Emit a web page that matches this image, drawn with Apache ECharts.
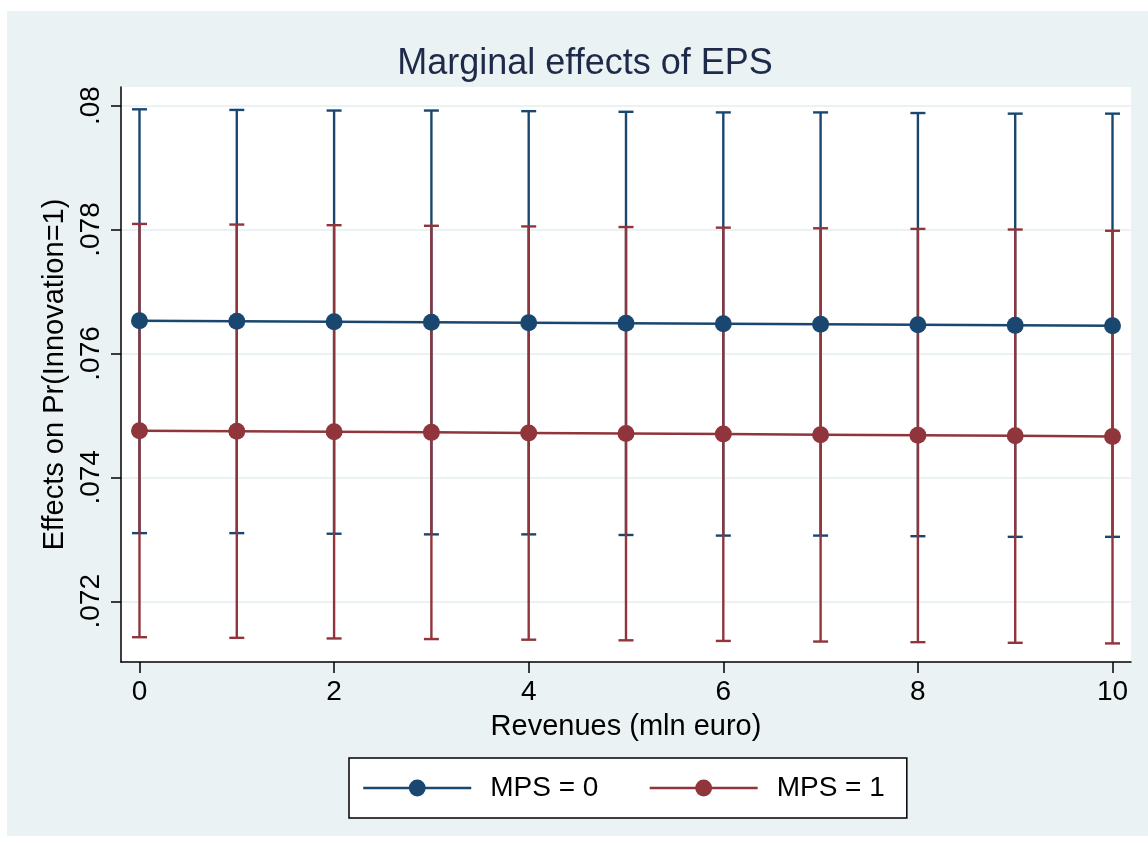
<!DOCTYPE html>
<html>
<head>
<meta charset="utf-8">
<script src="https://cdn.jsdelivr.net/npm/echarts@6/dist/echarts.min.js"></script>
<style>
  html, body { margin: 0; padding: 0; background: #ffffff; }
  #chart { width: 1148px; height: 843px; }
</style>
</head>
<body>
<div id="chart"></div>
<script>
// Revenues (mln euro) at which the margins are evaluated
const revenues = [0, 1, 2, 3, 4, 5, 6, 7, 8, 9, 10];

// MPS = 0: marginal effect with 95% confidence bounds
const mps0Margin = [0.076526, 0.076518, 0.076510, 0.076502, 0.076494, 0.076486, 0.076478, 0.076470, 0.076462, 0.076453, 0.076445];
const mps0Upper  = [0.07994, 0.07993, 0.07992, 0.07992, 0.07991, 0.07990, 0.07989, 0.07989, 0.07988, 0.07987, 0.07987];
const mps0Lower  = [0.07310, 0.07310, 0.07309, 0.07308, 0.07308, 0.07307, 0.07306, 0.07306, 0.07305, 0.07304, 0.07304];

// MPS = 1: marginal effect with 95% confidence bounds
const mps1Margin = [0.074753, 0.074744, 0.074735, 0.074726, 0.074716, 0.074707, 0.074698, 0.074689, 0.074679, 0.074670, 0.074661];
const mps1Upper  = [0.07809, 0.07808, 0.07807, 0.07806, 0.07805, 0.07804, 0.07803, 0.07802, 0.07801, 0.07800, 0.07798];
const mps1Lower  = [0.07142, 0.07141, 0.07140, 0.07139, 0.07138, 0.07137, 0.07136, 0.07135, 0.07134, 0.07133, 0.07132];

// Tick labels
const xTicks = [0, 2, 4, 6, 8, 10];
const yTicks = [0.072, 0.074, 0.076, 0.078, 0.08];

const NAVY = '#1A476F';
const MAROON = '#90353B';
const FONT = 'Liberation Sans, Arial, Helvetica, sans-serif';

function pairs(ys) { return revenues.map((x, i) => [x, ys[i]]); }
function bands(lo, hi) { return revenues.map((x, i) => [x, lo[i], hi[i]]); }

// Capped spike (rcap) drawn through the axes' own coordinate system
function capRenderer(color) {
  return function (params, api) {
    const x = api.value(0);
    const lo = api.coord([x, api.value(1)]);
    const hi = api.coord([x, api.value(2)]);
    const half = 7.5;
    const style = { stroke: color, lineWidth: 2.4 };
    return {
      type: 'group',
      children: [
        { type: 'line', shape: { x1: lo[0], y1: lo[1], x2: hi[0], y2: hi[1] }, style },
        { type: 'line', shape: { x1: lo[0] - half, y1: lo[1], x2: lo[0] + half, y2: lo[1] }, style },
        { type: 'line', shape: { x1: hi[0] - half, y1: hi[1], x2: hi[0] + half, y2: hi[1] }, style }
      ]
    };
  };
}

const chart = echarts.init(document.getElementById('chart'), null, { renderer: 'canvas' });

chart.setOption({
  animation: false,
  backgroundColor: '#ffffff',
  graphic: [{
    type: 'rect',
    z: -10,
    shape: { x: 7, y: 11, width: 1141, height: 825 },
    style: { fill: '#EAF2F3' }
  }],
  title: {
    text: 'Marginal effects of EPS',
    left: 580,
    textAlign: 'center',
    top: 41,
    textStyle: { fontFamily: FONT, fontSize: 36, fontWeight: 'normal', color: '#1E2A4A' }
  },
  grid: {
    left: 121, top: 87, right: 17, bottom: 181,
    show: true, backgroundColor: '#ffffff', borderWidth: 0
  },
  xAxis: {
    type: 'value',
    min: -0.19,
    max: 10.19,
    name: 'Revenues (mln euro)',
    nameLocation: 'middle',
    nameGap: 50,
    nameTextStyle: { fontFamily: FONT, fontSize: 29, color: '#000' },
    axisLine: { show: true, onZero: false, lineStyle: { color: '#000', width: 1.5 } },
    axisTick: { show: true, length: 11, customValues: xTicks, lineStyle: { color: '#000', width: 1.5 } },
    axisLabel: { customValues: xTicks, margin: 16, fontFamily: FONT, fontSize: 28, color: '#000' },
    splitLine: { show: false }
  },
  yAxis: {
    type: 'value',
    min: 0.07102,
    max: 0.0803,
    name: 'Effects on Pr(Innovation=1)',
    nameLocation: 'middle',
    nameGap: 51,
    nameRotate: 90,
    nameTextStyle: { fontFamily: FONT, fontSize: 29, color: '#000' },
    axisLine: { show: true, onZero: false, lineStyle: { color: '#000', width: 1.5 } },
    axisTick: { show: true, length: 10, customValues: yTicks, lineStyle: { color: '#000', width: 1.5 } },
    axisLabel: {
      customValues: yTicks, rotate: 90, margin: 16,
      fontFamily: FONT, fontSize: 28, color: '#000',
      formatter: v => String(+v.toFixed(3)).replace(/^0/, '')
    },
    splitLine: { show: true, lineStyle: { color: '#EAF2F3', width: 2 } }
  },
  legend: {
    data: ['MPS = 0', 'MPS = 1'],
    left: 349,
    top: 758,
    orient: 'horizontal',
    backgroundColor: '#ffffff',
    borderColor: '#000',
    borderWidth: 1.5,
    borderRadius: 0,
    padding: [16, 22, 16, 13],
    itemWidth: 108,
    itemHeight: 21,
    itemGap: 50,
    lineStyle: { width: 2.5 },
    textStyle: { fontFamily: FONT, fontSize: 28, color: '#000', padding: [0, 0, 0, 14] }
  },
  series: [
    {
      name: 'CI MPS = 0',
      type: 'custom',
      data: bands(mps0Lower, mps0Upper),
      renderItem: capRenderer(NAVY),
      silent: true
    },
    {
      name: 'CI MPS = 1',
      type: 'custom',
      data: bands(mps1Lower, mps1Upper),
      renderItem: capRenderer(MAROON),
      silent: true
    },
    {
      name: 'MPS = 0',
      type: 'line',
      data: pairs(mps0Margin),
      symbol: 'circle',
      symbolSize: 17,
      itemStyle: { color: NAVY },
      lineStyle: { color: NAVY, width: 2.5 }
    },
    {
      name: 'MPS = 1',
      type: 'line',
      data: pairs(mps1Margin),
      symbol: 'circle',
      symbolSize: 17,
      itemStyle: { color: MAROON },
      lineStyle: { color: MAROON, width: 2.5 }
    }
  ]
});
</script>
</body>
</html>
